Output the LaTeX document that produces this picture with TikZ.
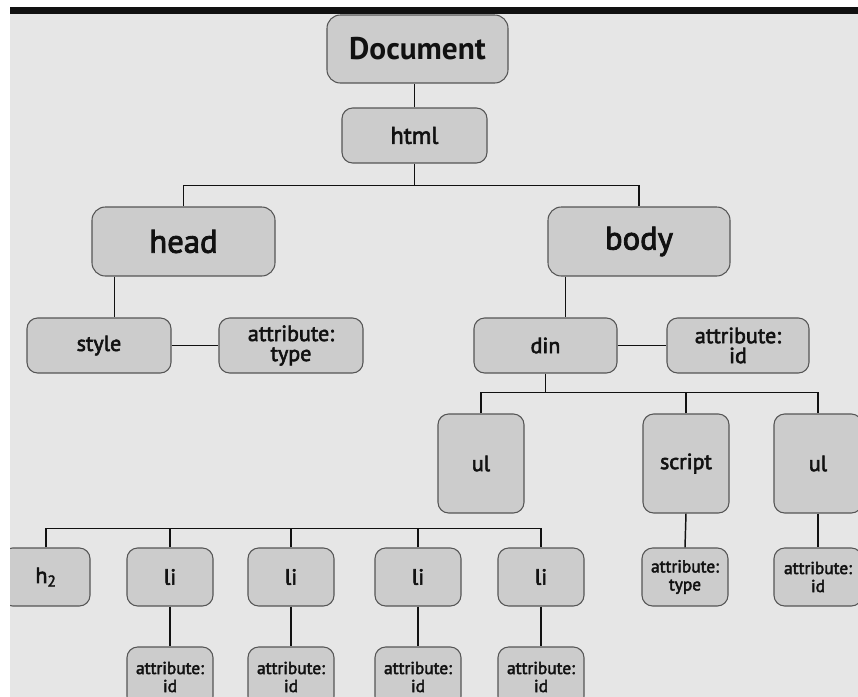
\documentclass[tikz,border=0pt]{standalone}
\usepackage{fontspec}
\setmainfont{PT Sans}
\newfontfamily\semib{PT Sans}[FakeBold=2.6]
\definecolor{bggray}{HTML}{E6E6E6}
\definecolor{boxfill}{HTML}{CCCCCC}
\definecolor{boxline}{HTML}{555555}
\definecolor{ink}{HTML}{111111}
\tikzset{box/.style={draw=boxline, fill=boxfill, text=ink, line width=0.8pt, rounded corners=8pt, inner sep=0pt, align=center}}
\tikzset{sz/.style 2 args={minimum width=#1*0.75pt, minimum height=#2*0.75pt}}
\tikzset{link/.style={line width=1.1pt, ink}}
\tikzset{txtbig/.style={font=\semib\fontsize{24.5}{26}\selectfont}, txtmid/.style={font=\semib\fontsize{16.5}{15}\selectfont}, txtsmall/.style={font=\semib\fontsize{13}{13.5}\selectfont}}

\begin{document}
\begin{tikzpicture}[x=0.75pt, y=-0.75pt]
\useasboundingbox (0,0) rectangle (858,697);
\fill[bggray] (10,14) rectangle (858,697);
\begin{scope}
\clip (10,14) rectangle (858,697);
% root and html
\node[box, sz={181}{68}, rounded corners=10pt, font=\fontsize{23.5}{24}\selectfont\bfseries] (doc) at (417.5,49) {Document};
\node[box, sz={145}{55}, font=\semib\fontsize{18}{20}\selectfont] (html) at (414.5,135.5) {html};
\draw[link] (html.north) -- (html.north |- doc.south);
% head and body
\node[box, sz={183}{69}, rounded corners=10pt, txtbig] (head) at (183.5,241.5) {head};
\node[box, sz={182}{69}, rounded corners=10pt, txtbig] (body) at (639,241.5) {body};
\draw[link] (html.south) -- ++(0,22) coordinate (htmlfork);
\draw[link] (head.north) |- (htmlfork) -| (body.north);
% head branch
\node[box, sz={144}{55}, txtmid] (style) at (99,345.5) {style};
\node[box, sz={144}{55}, txtmid] (styletype) at (291,345.5) {attribute:\\type};
\draw[link] (head.south west) ++(23,0) coordinate (headdrop) -- (headdrop |- style.north);
\draw[link] (style.east) -- (styletype.west);
% body branch
\node[box, sz={143}{55}, txtmid] (din) at (545.5,345.5) {din};
\node[box, sz={142}{55}, txtmid] (dinid) at (738,345.5) {attribute:\\id};
\draw[link] (body.south west) ++(18,0) coordinate (bodydrop) -- (bodydrop |- din.north);
\draw[link] (din.east) -- (dinid.west);
% children of din
\node[box, sz={86}{99}, txtmid] (ulA) at (481,463.5) {ul};
\node[box, sz={86}{99}, txtmid] (script) at (686,463.5) {script};
\node[box, sz={88}{99}, txtmid] (ulB) at (818,463.5) {ul};
\draw[link] (din.south) -- ++(0,19) coordinate (dinfork);
\draw[link] (ulA.north) |- (dinfork) -| (ulB.north);
\draw[link] (script.north) -- (script.north |- dinfork);
% h2 and li row
\node[box, sz={88}{58}, txtmid] (htwo) at (46,577) {h\textsubscript{2}};
\node[box, sz={86}{58}, txtmid] (liA) at (170,577) {li};
\node[box, sz={86}{58}, txtmid] (liB) at (291,577) {li};
\node[box, sz={86}{58}, txtmid] (liC) at (418,577) {li};
\node[box, sz={86}{58}, txtmid] (liD) at (541,577) {li};
\draw[link] (htwo.north) -- ++(0,-19) -| (liD.north);
\draw[link] (liA.north) -- ++(0,-19); \draw[link] (liB.north) -- ++(0,-19); \draw[link] (liC.north) -- ++(0,-19);
% attributes of li
\node[box, sz={86}{60}, txtsmall] (liAid) at (170,677) {attribute:\\id};
\node[box, sz={86}{60}, txtsmall] (liBid) at (291,677) {attribute:\\id};
\node[box, sz={86}{60}, txtsmall] (liCid) at (418,677) {attribute:\\id};
\node[box, sz={86}{60}, txtsmall] (liDid) at (541,677) {attribute:\\id};
\draw[link] (liA.south) -- (liAid.north); \draw[link] (liB.south) -- (liBid.north);
\draw[link] (liC.south) -- (liCid.north); \draw[link] (liD.south) -- (liDid.north);
% attributes of script and ul
\node[box, sz={86}{58}, txtsmall] (scripttype) at (685,577) {attribute:\\type};
\node[box, sz={88}{58}, txtsmall] (ulBid) at (818,577) {attribute:\\id};
\draw[link] (script.south) -- (scripttype.north);
\draw[link] (ulB.south) -- (ulBid.north);
\end{scope}
\fill[ink] (10,7) rectangle (858,14);
\end{tikzpicture}
\end{document}
